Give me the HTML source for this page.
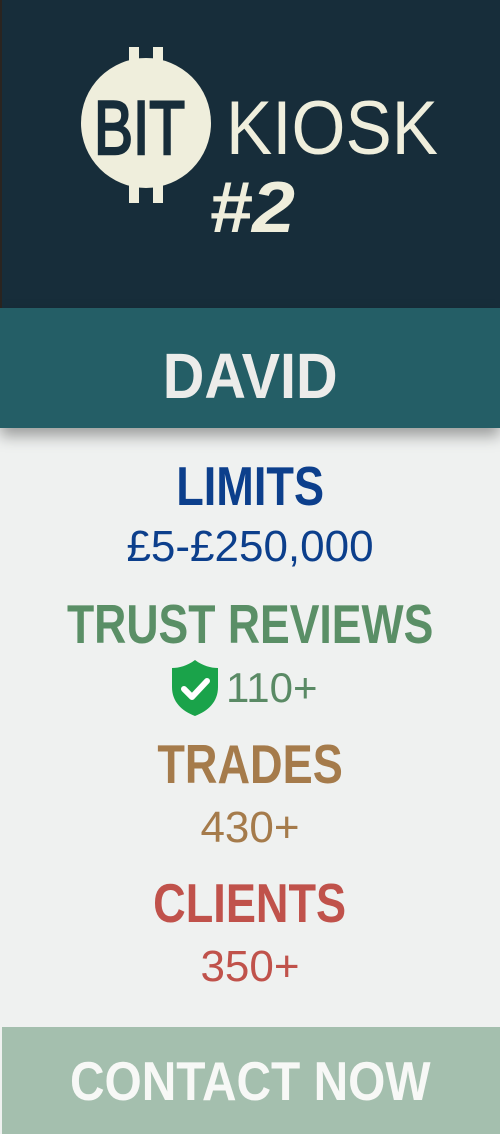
<!DOCTYPE html>
<html><head><meta charset="utf-8"><style>
html,body{margin:0;padding:0;}
body{width:500px;height:1134px;position:relative;overflow:hidden;background:#eff1f0;font-family:"Liberation Sans",sans-serif;}
.hdr{position:absolute;left:0;top:0;width:500px;height:308px;background:#172d3a;}
.edge{position:absolute;left:0;top:0;width:2px;height:308px;background:#2a2420;}
.band{position:absolute;left:0;top:308px;width:500px;height:120px;background:#245e66;box-shadow:0 8px 14px rgba(0,0,0,0.35);}
.t{position:absolute;left:0;width:500px;text-align:center;white-space:nowrap;}
.t span{display:inline-block;}
.h{font-weight:bold;font-size:55px;line-height:1;}
.h span{transform:scaleX(0.82);}
.v{font-size:44px;line-height:1;}
.btn{position:absolute;left:2px;top:1027px;width:498px;height:107px;background:#a4bfae;}
</style></head><body>
<div class="hdr">
<div class="edge"></div>
<svg width="500" height="308" style="position:absolute;left:0;top:0">
<rect x="129" y="47" width="10" height="20" fill="#efeedc"/>
<rect x="153" y="47" width="10" height="20" fill="#efeedc"/>
<rect x="129" y="180" width="10" height="23" fill="#efeedc"/>
<rect x="153" y="180" width="10" height="23" fill="#efeedc"/>
<circle cx="146" cy="123" r="65" fill="#efeedc"/>
<text x="94" y="154" font-family="Liberation Sans" font-size="76" fill="#172d3a" stroke="#172d3a" stroke-width="2.5" textLength="91" lengthAdjust="spacingAndGlyphs">BIT</text>
<text x="226" y="154" font-family="Liberation Sans" font-size="76" fill="#efeedc" textLength="212" lengthAdjust="spacingAndGlyphs">KIOSK</text>
<text x="209" y="232" font-family="Liberation Sans" font-weight="bold" font-style="italic" font-size="72" fill="#efeedc" textLength="86" lengthAdjust="spacingAndGlyphs">#2</text>
</svg>
</div>
<div class="band"></div>
<div class="t h" style="top:344px;font-size:64px;color:#ececea"><span style="transform:scaleX(0.9)">DAVID</span></div>
<div class="t h" style="top:459px;color:#0c3f8c"><span>LIMITS</span></div>
<div class="t v" style="top:525px;color:#0c3f8c"><span>£5-£250,000</span></div>
<div class="t h" style="top:597px;color:#5a8f66"><span style="transform:scaleX(0.81)">TRUST REVIEWS</span></div>
<svg width="50" height="58" viewBox="0 0 50 58" style="position:absolute;left:170px;top:659px">
<path d="M25 1 C33 7 41 9 48 9 L48 28 C48 43 38 52 25 57 C12 52 2 43 2 28 L2 9 C9 9 17 7 25 1Z" fill="#1aa34a"/>
<path d="M14 30 L22 38 L37 22" stroke="#fff" stroke-width="6" fill="none" stroke-linecap="round" stroke-linejoin="round"/>
</svg>
<div style="position:absolute;left:226px;top:667px;font-size:42px;line-height:1;color:#5a8a65">110+</div>
<div class="t h" style="top:737px;color:#a57b4b"><span>TRADES</span></div>
<div class="t v" style="top:806px;color:#a57b4b"><span>430+</span></div>
<div class="t h" style="top:876px;color:#c0524b"><span>CLIENTS</span></div>
<div class="t v" style="top:945px;color:#c0524b"><span>350+</span></div>
<div class="btn"></div>
<div class="t h" style="top:1054px;color:#f7f8f6"><span style="transform:scaleX(0.87)">CONTACT NOW</span></div>
</body></html>
